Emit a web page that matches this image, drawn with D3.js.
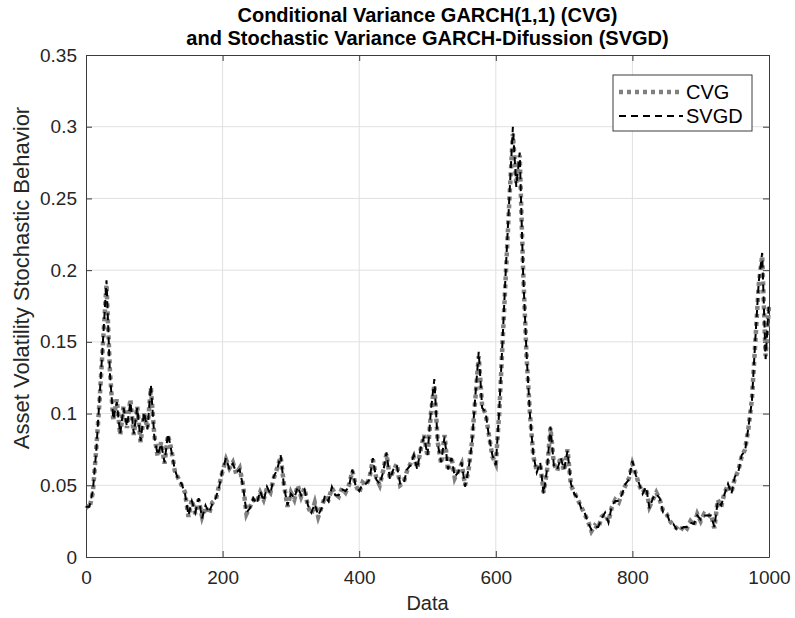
<!DOCTYPE html>
<html>
<head>
<meta charset="utf-8">
<script src="https://cdn.jsdelivr.net/npm/d3@7"></script>
<style>
  body { margin: 0; background: #fff; }
  svg text { font-family: "Liberation Sans", Arial, sans-serif; }
</style>
</head>
<body>
<div id="vis"></div>
<script>
// datos (cada 5 observaciones)
const xData = d3.range(0, 1001, 5);

const cvg = [
  0.036, 0.034, 0.045, 0.075, 0.110, 0.150, 0.190, 0.130, 0.095, 0.110,
  0.085, 0.105, 0.090, 0.110, 0.085, 0.105, 0.080, 0.100, 0.090, 0.118,
  0.085, 0.070, 0.080, 0.065, 0.085, 0.075, 0.060, 0.055, 0.050, 0.045,
  0.028, 0.040, 0.030, 0.040, 0.028, 0.035, 0.030, 0.038, 0.040, 0.050,
  0.060, 0.068, 0.062, 0.066, 0.058, 0.062, 0.050, 0.030, 0.035, 0.040,
  0.038, 0.045, 0.040, 0.048, 0.045, 0.055, 0.062, 0.070, 0.050, 0.035,
  0.045, 0.040, 0.050, 0.042, 0.048, 0.035, 0.030, 0.038, 0.028, 0.035,
  0.042, 0.040, 0.048, 0.044, 0.042, 0.048, 0.045, 0.050, 0.060, 0.050,
  0.045, 0.052, 0.050, 0.055, 0.068, 0.055, 0.050, 0.060, 0.072, 0.055,
  0.060, 0.065, 0.050, 0.052, 0.060, 0.065, 0.070, 0.062, 0.075, 0.085,
  0.070, 0.100, 0.120, 0.080, 0.065, 0.085, 0.060, 0.070, 0.055, 0.060,
  0.065, 0.050, 0.060, 0.080, 0.110, 0.140, 0.105, 0.100, 0.085, 0.070,
  0.065, 0.100, 0.150, 0.200, 0.250, 0.295, 0.260, 0.280, 0.200, 0.140,
  0.100, 0.070, 0.060, 0.065, 0.045, 0.060, 0.090, 0.065, 0.060, 0.070,
  0.060, 0.075, 0.050, 0.045, 0.040, 0.035, 0.030, 0.025, 0.018, 0.022,
  0.020, 0.028, 0.030, 0.025, 0.035, 0.040, 0.038, 0.045, 0.050, 0.055,
  0.065, 0.058, 0.050, 0.045, 0.048, 0.035, 0.040, 0.045, 0.040, 0.032,
  0.030, 0.025, 0.022, 0.020, 0.018, 0.022, 0.020, 0.025, 0.022, 0.030,
  0.025, 0.030, 0.028, 0.030, 0.020, 0.040, 0.035, 0.045, 0.050, 0.045,
  0.055, 0.060, 0.070, 0.075, 0.090, 0.110, 0.150, 0.190, 0.210, 0.140,
  0.175
];

const svgd = [
  0.035, 0.035, 0.046, 0.074, 0.112, 0.152, 0.193, 0.128, 0.096, 0.108,
  0.086, 0.104, 0.091, 0.108, 0.086, 0.104, 0.081, 0.101, 0.089, 0.120,
  0.084, 0.071, 0.079, 0.066, 0.086, 0.074, 0.061, 0.054, 0.051, 0.044,
  0.029, 0.039, 0.031, 0.041, 0.027, 0.036, 0.031, 0.037, 0.041, 0.049,
  0.061, 0.069, 0.061, 0.065, 0.059, 0.061, 0.049, 0.031, 0.034, 0.041,
  0.037, 0.046, 0.039, 0.049, 0.044, 0.056, 0.061, 0.071, 0.049, 0.036,
  0.044, 0.041, 0.049, 0.043, 0.047, 0.036, 0.031, 0.037, 0.029, 0.034,
  0.043, 0.039, 0.049, 0.043, 0.043, 0.047, 0.046, 0.049, 0.061, 0.049,
  0.046, 0.051, 0.051, 0.054, 0.069, 0.054, 0.051, 0.059, 0.073, 0.054,
  0.061, 0.064, 0.051, 0.051, 0.061, 0.064, 0.071, 0.061, 0.076, 0.084,
  0.071, 0.102, 0.124, 0.079, 0.066, 0.084, 0.061, 0.069, 0.056, 0.059,
  0.066, 0.049, 0.061, 0.079, 0.112, 0.143, 0.104, 0.101, 0.084, 0.071,
  0.064, 0.102, 0.152, 0.204, 0.252, 0.300, 0.258, 0.282, 0.198, 0.142,
  0.099, 0.071, 0.059, 0.066, 0.044, 0.061, 0.091, 0.064, 0.061, 0.069,
  0.061, 0.074, 0.051, 0.044, 0.041, 0.034, 0.031, 0.024, 0.019, 0.021,
  0.021, 0.027, 0.031, 0.024, 0.036, 0.039, 0.039, 0.044, 0.051, 0.054,
  0.067, 0.057, 0.051, 0.044, 0.049, 0.034, 0.041, 0.044, 0.041, 0.031,
  0.031, 0.024, 0.023, 0.019, 0.019, 0.021, 0.021, 0.024, 0.023, 0.029,
  0.026, 0.029, 0.029, 0.029, 0.021, 0.039, 0.036, 0.044, 0.051, 0.044,
  0.056, 0.059, 0.071, 0.074, 0.091, 0.109, 0.152, 0.192, 0.212, 0.138,
  0.178
];

const seriesNames = ["CVG", "SVGD"];
const xTicks = [0, 200, 400, 600, 800, 1000];
const yTicks = [0, 0.05, 0.1, 0.15, 0.2, 0.25, 0.3, 0.35];

const WIDTH = 795;
const HEIGHT = 618;
const margins = [86, 26, 55, 61]; // izquierda, derecha, arriba, abajo

const SVG = d3.select("#vis").append("svg").attr("width", WIDTH).attr("height", HEIGHT);

const escalaX = d3.scaleLinear().domain([0, 1000]).range([margins[0], WIDTH - margins[1]]);
const escalaY = d3.scaleLinear().domain([0, 0.35]).range([HEIGHT - margins[3], margins[2]]);

const axisColor = "#3c3c3c";
const textColor = "#262626";

// grilla
const grid = SVG.append("g").attr("id", "grid");
grid.selectAll(".gx").data(xTicks.slice(1, -1)).join("line")
    .attr("x1", d => escalaX(d)).attr("x2", d => escalaX(d))
    .attr("y1", escalaY(0)).attr("y2", escalaY(0.35))
    .attr("stroke", "#e0e0e0").attr("stroke-width", 1);
grid.selectAll(".gy").data(yTicks.slice(1, -1)).join("line")
    .attr("y1", d => escalaY(d)).attr("y2", d => escalaY(d))
    .attr("x1", escalaX(0)).attr("x2", escalaX(1000))
    .attr("stroke", "#e0e0e0").attr("stroke-width", 1);

// ejes (ticks hacia adentro, estilo matlab)
const ejeX = d3.axisBottom(escalaX).tickValues(xTicks).tickFormat(d3.format("d"))
    .tickSizeInner(-6).tickSizeOuter(0).tickPadding(14);
const ejeY = d3.axisLeft(escalaY).tickValues(yTicks).tickFormat(d => d === 0 ? "0" : String(+d.toFixed(2)))
    .tickSizeInner(-6).tickSizeOuter(0).tickPadding(9);

SVG.append("g").attr("id", "ejeX")
    .attr("transform", `translate(0,${escalaY(0)})`)
    .call(ejeX);
SVG.append("g").attr("id", "ejeY")
    .attr("transform", `translate(${escalaX(0)},0)`)
    .call(ejeY);
SVG.append("g").attr("id", "ejeXtop")
    .attr("transform", `translate(0,${escalaY(0.35)})`)
    .call(d3.axisTop(escalaX).tickValues(xTicks).tickSizeInner(-6).tickSizeOuter(0).tickFormat(""));
SVG.append("g").attr("id", "ejeYright")
    .attr("transform", `translate(${escalaX(1000)},0)`)
    .call(d3.axisRight(escalaY).tickValues(yTicks).tickSizeInner(-6).tickSizeOuter(0).tickFormat(""));

SVG.selectAll("#ejeX, #ejeY, #ejeXtop, #ejeYright").selectAll("path, line")
    .attr("stroke", axisColor);
SVG.selectAll("#ejeX, #ejeY").selectAll("text")
    .attr("font-size", 19)
    .attr("fill", textColor)
    .attr("font-family", "Liberation Sans, Arial, sans-serif");

// lineas
const linea = d3.line()
    .x((d, i) => escalaX(xData[i]))
    .y(d => escalaY(d));

const estilos = {
    CVG: { color: "#808080", width: 4.5, dash: "4,4" },
    SVGD: { color: "#000000", width: 2, dash: "7,5" }
};

const lineasG = SVG.append("g").attr("id", "lineas");
lineasG.append("path").datum(cvg)
    .attr("d", linea)
    .attr("fill", "none")
    .attr("stroke", estilos.CVG.color)
    .attr("stroke-width", estilos.CVG.width)
    .attr("stroke-dasharray", estilos.CVG.dash);
lineasG.append("path").datum(svgd)
    .attr("d", linea)
    .attr("fill", "none")
    .attr("stroke", estilos.SVGD.color)
    .attr("stroke-width", estilos.SVGD.width)
    .attr("stroke-dasharray", estilos.SVGD.dash);

// titulo
const cx = (escalaX(0) + escalaX(1000)) / 2;
const titulo = SVG.append("text")
    .attr("x", cx)
    .attr("y", 22)
    .attr("text-anchor", "middle")
    .attr("font-weight", "bold")
    .attr("font-size", 20)
    .attr("fill", "#000");
titulo.append("tspan").attr("x", cx).attr("dy", 0)
    .text("Conditional Variance GARCH(1,1) (CVG)");
titulo.append("tspan").attr("x", cx).attr("dy", 23)
    .text("and Stochastic Variance GARCH-Difussion (SVGD)");

// etiquetas de ejes
SVG.append("text")
    .attr("x", cx)
    .attr("y", 610)
    .attr("text-anchor", "middle")
    .attr("font-size", 20)
    .attr("fill", textColor)
    .text("Data");

SVG.append("text")
    .attr("transform", "translate(29,278) rotate(-90)")
    .attr("text-anchor", "middle")
    .attr("font-size", 22)
    .attr("fill", textColor)
    .text("Asset Volatility Stochastic Behavior");

// leyenda
const leg = SVG.append("g").attr("id", "leyenda").attr("transform", "translate(613,75)");
leg.append("rect")
    .attr("width", 139).attr("height", 56)
    .attr("fill", "#fff").attr("stroke", axisColor).attr("stroke-width", 1);
seriesNames.forEach((name, i) => {
    const yy = 17 + i * 24;
    leg.append("line")
        .attr("x1", 6).attr("x2", 70).attr("y1", yy).attr("y2", yy)
        .attr("stroke", estilos[name].color)
        .attr("stroke-width", estilos[name].width)
        .attr("stroke-dasharray", estilos[name].dash);
    leg.append("text")
        .attr("x", 73).attr("y", yy + 7)
        .attr("font-size", 20)
        .attr("fill", "#000")
        .text(name);
});
</script>
</body>
</html>
